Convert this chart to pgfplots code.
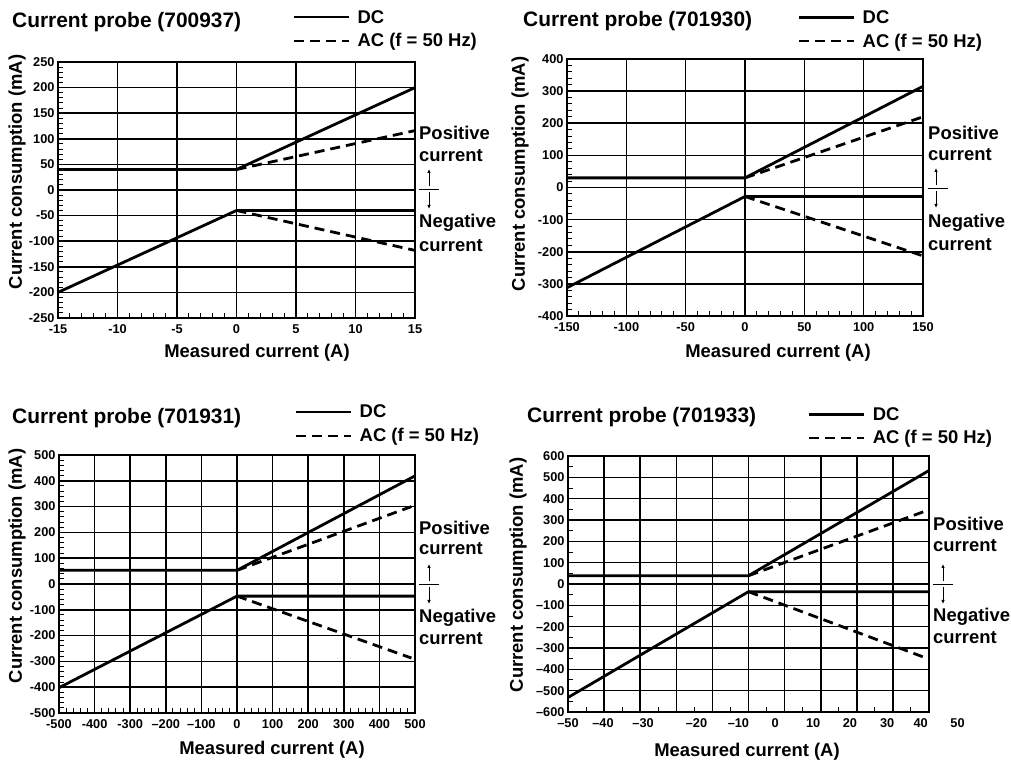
\documentclass[border=0pt]{standalone}
\usepackage{fontspec}
\setmainfont{Liberation Sans}
\usepackage{pgfplots}
\pgfplotsset{compat=1.18}
\usetikzlibrary{arrows.meta}
\newcommand\tf{\fontsize{21}{24}\selectfont\bfseries}
\newcommand\lf{\fontsize{18.5}{22}\selectfont\bfseries}
\pgfplotsset{
 panel/.style={
  scale only axis, anchor=south west,
  axis line style={line width=2bp},
  grid=major, major grid style={black, line width=1.6bp},
  xtick pos=bottom, ytick pos=left,
  tick align=inside, major tick length=0pt, minor tick length=5bp,
  minor tick style={line width=1bp, black},
  ticklabel style={font=\fontsize{12.8}{14}\selectfont\bfseries},
  xticklabel style={yshift=-3bp},
  /pgf/number format/assume math mode=true,
  legend cell align=left,
  legend style={draw=none, fill=none, anchor=north west, inner sep=0pt, font=\lf, row sep=5bp},
  legend image code/.code={\draw[##1, line width=2.2bp] (0bp,0bp) -- (55bp,0bp); \path (60bp,0bp);},
 },
 dc/.style={black, line width=2.8bp},
 ac/.style={black, line width=2.8bp, dash pattern=on 10bp off 6bp},
}
\begin{document}
\bfseries
\begin{tikzpicture}
\path[use as bounding box] (0,0) rectangle (1011bp,760bp);
% ---------------- Panel 1
\begin{axis}[panel, at={(58bp,442bp)}, width=357bp, height=256bp,
 xmin=-15, xmax=15, ymin=-250, ymax=250,
 xtick={-15,-10,-5,0,5,10,15}, xticklabels={-15,-10,-5,0,5,10,15},
 ytick={-250,-200,-150,-100,-50,0,50,100,150,200,250},
 yticklabels={-250,-200,-150,-100,-50,0,50,100,150,200,250},
 minor x tick num=4, minor y tick num=4,
 legend style={at={(0.658,1.211)}}]
\addplot[dc] coordinates {(-15,40) (0,40) (15,200)}; \addlegendentry{DC}
\addplot[ac] coordinates {(0,40) (15,116)}; \addlegendentry{AC (f = 50 Hz)}
\addplot[dc, forget plot] coordinates {(-15,-200) (0,-40) (15,-40)};
\addplot[ac, forget plot] coordinates {(0,-40) (15,-118)};
\end{axis}
% ---------------- Panel 2
\begin{axis}[panel, at={(567bp,444bp)}, width=356bp, height=257bp,
 xmin=-150, xmax=150, ymin=-400, ymax=400,
 xtick={-150,-100,-50,0,50,100,150}, xticklabels={-150,-100,-50,0,50,100,150},
 ytick={-400,-300,-200,-100,0,100,200,300,400},
 yticklabels={-400,-300,-200,-100,0,100,200,300,400},
 minor x tick num=4, minor y tick num=4,
 legend style={at={(0.649,1.198)}}]
\addplot[dc] coordinates {(-150,30) (0,30) (150,315)}; \addlegendentry{DC}
\addplot[ac] coordinates {(0,30) (150,220)}; \addlegendentry{AC (f = 50 Hz)}
\addplot[dc, forget plot] coordinates {(-150,-312) (0,-28) (150,-28)};
\addplot[ac, forget plot] coordinates {(0,-28) (150,-213)};
\end{axis}
% ---------------- Panel 3
\begin{axis}[panel, at={(59bp,47bp)}, width=356bp, height=258bp,
 xmin=-500, xmax=500, ymin=-500, ymax=500,
 xtick={-500,-400,-300,-200,-100,0,100,200,300,400,500},
 xticklabels={-500,-400,-300,–200,–100,0,100,200,300,400,500},
 ytick={-500,-400,-300,-200,-100,0,100,200,300,400,500},
 yticklabels={-500,-400,-300,-200,-100,0,100,200,300,400,500},
 minor x tick num=4, minor y tick num=4,
 legend style={at={(0.663,1.202)}}]
\addplot[dc] coordinates {(-500,53) (0,53) (500,419)}; \addlegendentry{DC}
\addplot[ac] coordinates {(0,53) (490,300)}; \addlegendentry{AC (f = 50 Hz)}
\addplot[dc, forget plot] coordinates {(-500,-402) (0,-47) (500,-47)};
\addplot[ac, forget plot] coordinates {(0,-47) (490,-287)};
\end{axis}
% ---------------- Panel 4
\begin{axis}[panel, at={(568bp,48bp)}, width=361bp, height=256bp, clip=false,
 xmin=-50, xmax=50, ymin=-600, ymax=600,
 xtick={-40,-30,-20,-10,0,10,20,30,40}, xticklabels={},
 minor xtick={-45,-35,-25,-15,-5,5,15,25,35,45},
 extra x ticks={-50,-40.3,-29.2,-14.4,-2.8,7.4,17.9,28.1,38.4,47.7},
 extra x tick labels={–50,–40,–30,–20,–10,0,10,20,30,40},
 extra x tick style={grid=none, major tick length=0pt},
 ytick={-600,-500,-400,-300,-200,-100,0,100,200,300,400,500,600},
 yticklabels={–600,–500,–400,–300,–200,–100,0,100,200,300,400,500,600},
 minor y tick num=1,
 legend style={at={(0.665,1.199)}}]
\addplot[dc] coordinates {(-50,39) (0,39) (50,532)}; \addlegendentry{DC}
\addplot[ac] coordinates {(0,39) (50,348)}; \addlegendentry{AC (f = 50 Hz)}
\addplot[dc, forget plot] coordinates {(-50,-532) (0,-36) (50,-36)};
\addplot[ac, forget plot] coordinates {(0,-36) (50,-352)};
\node[anchor=north, font=\fontsize{12.8}{14}\selectfont\bfseries, yshift=-3bp, inner sep=0.3333em] at (axis cs:57.9,-600) {50};
\end{axis}
% ---------------- Titles
\node[anchor=west, inner sep=0pt, font=\tf] at (12bp,738bp) {Current probe (700937)};
\node[anchor=west, inner sep=0pt, font=\tf] at (523bp,739bp) {Current probe (701930)};
\node[anchor=west, inner sep=0pt, font=\tf] at (12bp,342bp) {Current probe (701931)};
\node[anchor=west, inner sep=0pt, font=\tf] at (527bp,343bp) {Current probe (701933)};
% ---------------- Axis labels
\node[rotate=90, font=\lf, inner sep=0pt] at (17bp,588bp) {Current consumption (mA)};
\node[rotate=90, font=\lf, inner sep=0pt] at (520bp,586bp) {Current consumption (mA)};
\node[rotate=90, font=\lf, inner sep=0pt] at (17bp,194bp) {Current consumption (mA)};
\node[rotate=90, font=\lf, inner sep=0pt] at (518bp,185bp) {Current consumption (mA)};
\node[font=\lf, inner sep=0pt] at (257bp,407bp) {Measured current (A)};
\node[font=\lf, inner sep=0pt] at (778bp,407bp) {Measured current (A)};
\node[font=\lf, inner sep=0pt] at (272bp,10bp) {Measured current (A)};
\node[font=\lf, inner sep=0pt] at (747bp,8bp) {Measured current (A)};
% ---------------- Positive / Negative annotations
\foreach \x/\ya/\yb/\yc/\yd/\yh/\ax in {419/627/604/537/514/571/429, 928/627/605/537/515/572/936, 419/232/211/142/121/176/429, 933/236/214/143/122/176/943}{
 \node[anchor=west, inner sep=0pt, font=\lf] at (\x bp,\ya bp) {Positive};
 \node[anchor=west, inner sep=0pt, font=\lf] at (\x bp,\yb bp) {current};
 \node[anchor=west, inner sep=0pt, font=\lf] at (\x bp,\yc bp) {Negative};
 \node[anchor=west, inner sep=0pt, font=\lf] at (\x bp,\yd bp) {current};
 \draw[line width=0.9bp] (\x bp,\yh bp) -- ++(20bp,0);
 \draw[line width=0.9bp, -{Latex[length=4bp,width=3.5bp]}] (\ax bp,\yh bp+3bp) -- ++(0,17bp);
 \draw[line width=0.9bp, -{Latex[length=4bp,width=3.5bp]}] (\ax bp,\yh bp-3bp) -- ++(0,-17bp);
}
\end{tikzpicture}
\end{document}
